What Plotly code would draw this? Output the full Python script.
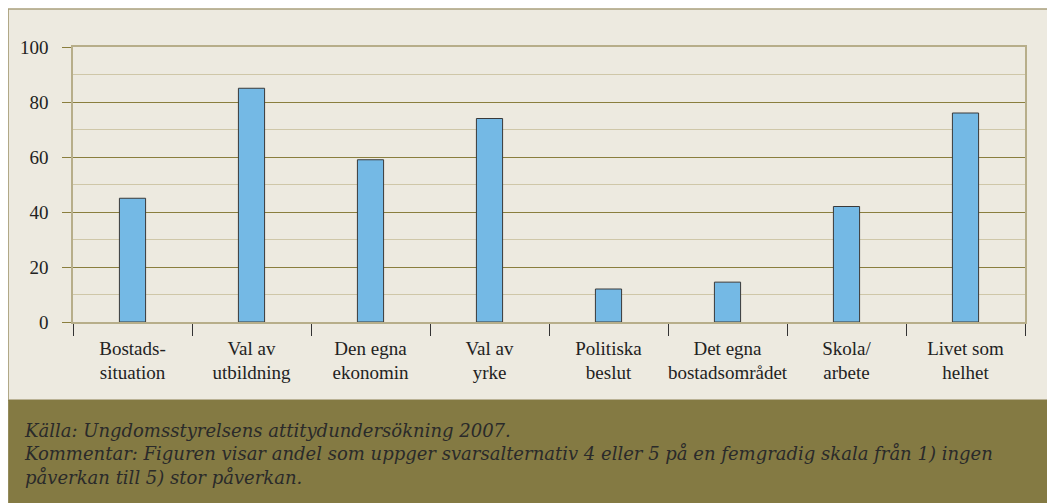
import plotly.graph_objects as go

categories = ["Bostads-<br>situation", "Val av<br>utbildning", "Den egna<br>ekonomin", "Val av<br>yrke",
              "Politiska<br>beslut", "Det egna<br>bostadsområdet", "Skola/<br>arbete", "Livet som<br>helhet"]
values = [45, 85, 59, 74, 12, 14.5, 42, 76]
y_ticks = [0, 20, 40, 60, 80, 100]

footer = ("Källa: Ungdomsstyrelsens attitydundersökning 2007.<br>"
          "Kommentar: Figuren visar andel som uppger svarsalternativ 4 eller 5 på en femgradig skala från 1) ingen<br>"
          "påverkan till 5) stor påverkan.")

OFF = 8  # page body margin
W, H = 1055 - OFF, 503 - OFF
L, R, T, B = 71 - OFF, 1025 - OFF, 47 - OFF, 322 - OFF
pw, ph = R - L, B - T

def px(x):
    return (x - OFF - L) / pw

def py(y):
    return (B - (y - OFF)) / ph

fig = go.Figure(go.Bar(
    x=categories, y=values, width=0.22,
    marker=dict(color="#74B9E5", line=dict(color="#3a3a3a", width=1)),
))

serif = "Liberation Serif, Times New Roman, serif"
foot_font = "DejaVu Serif, serif"

fig.update_layout(
    width=W, height=H,
    margin=dict(l=L, r=W - R, t=T, b=H - B),
    paper_bgcolor="white", plot_bgcolor="white",
    showlegend=False,
    font=dict(family=serif, size=18, color="#222222"),
    shapes=[
        dict(type="rect", xref="paper", yref="paper", layer="below",
             x0=px(6), x1=px(1062), y0=py(400), y1=py(9),
             fillcolor="#EDEAE0", line=dict(color="#A9A07C", width=1.5)),
        dict(type="rect", xref="paper", yref="paper", layer="below",
             x0=px(6), x1=px(1062), y0=py(510), y1=py(400),
             fillcolor="#847A43", line=dict(width=0)),
    ],
    annotations=[
        dict(xref="paper", yref="paper", x=px(20), y=py(418), xanchor="left", yanchor="top",
             align="left", showarrow=False, text=footer,
             font=dict(family=foot_font, size=18, color="#2a2a2a", style="italic")),
    ],
)

fig.update_yaxes(
    range=[0, 100], tickvals=y_ticks, ticks="outside", ticklen=9, tickcolor="#8A7E3E",
    tickfont=dict(family=serif, size=19, color="#222222"), ticklabelstandoff=10,
    showgrid=True, gridcolor="#8A7E3E", gridwidth=1,
    minor=dict(dtick=10, showgrid=True, gridcolor="#CFC7A8", ticks=""),
    showline=True, linecolor="#B7AE8A", linewidth=1.5, mirror=True,
    zeroline=False, fixedrange=True,
)
fig.update_xaxes(
    ticks="outside", tickson="boundaries", ticklen=12, tickcolor="#333333",
    tickangle=0, ticklabelstandoff=8,
    tickfont=dict(family=serif, size=19, color="#222222"),
    showline=True, linecolor="#B7AE8A", linewidth=1.5, mirror=True,
    showgrid=False, fixedrange=True,
)

fig.write_html("out.html")
